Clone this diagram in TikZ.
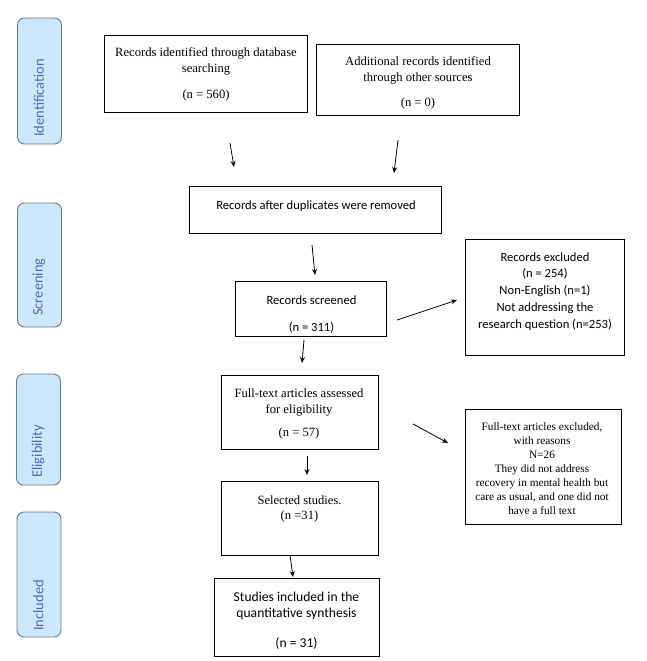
\documentclass[tikz,border=0pt]{standalone}
\usepackage{fontspec}
\setmainfont{Liberation Serif}
\newfontfamily\calfont{Carlito}
\usetikzlibrary{arrows.meta}
\definecolor{phasefill}{HTML}{CCE6FB}
\definecolor{phasetext}{HTML}{4A6EB5}
\definecolor{phasedraw}{HTML}{6E7B8A}
\begin{document}
\begin{tikzpicture}[x=1pt,y=-1pt,
  box/.style={draw=black, line width=1pt, inner sep=0pt, fill=white},
  phase/.style={draw=phasedraw, fill=phasefill, line width=0.9pt, rounded corners=7pt, inner sep=0pt, minimum width=44pt},
  phaselabel/.style={text=phasetext, font=\calfont\fontsize{14.5}{16}\selectfont, rotate=90, inner sep=0pt, anchor=west},
  sertxt/.style={align=center, inner sep=0pt, anchor=base, font=\fontsize{12.6}{16}\selectfont},
  caltxt/.style={align=center, inner sep=0pt, anchor=base, font=\calfont\fontsize{12.6}{16.5}\selectfont},
  arr/.style={line width=0.8pt, -{Stealth[length=6pt,width=5pt]}}
]
\useasboundingbox (0,0) rectangle (647,661);
\fill[white] (0,0) rectangle (647,661);

% phase labels (text starts near the bottom of each box)
\node[phase, minimum height=126pt] (p1) at (39.5,81) {};
\node[phaselabel] (l1) at (39,137) {Identification};
\node[phase, minimum height=124pt] (p2) at (39.5,265) {};
\node[phaselabel] (l2) at (39,316) {Screening};
\node[phase, minimum height=111pt] (p3) at (38.5,429.5) {};
\node[phaselabel] (l3) at (38,478) {Eligibility};
\node[phase, minimum height=125pt] (p4) at (39,574.5) {};
\node[phaselabel] (l4) at (38.5,631) {Included};

% boxes (text nodes anchored at the baseline of their last line)
\node[box, minimum width=203pt, minimum height=76pt] (b1) at (205.5,74) {};
\node[sertxt] (t1) at (206,98.5) {Records identified through database\\searching\\[10pt](n = 560)};

\node[box, minimum width=203pt, minimum height=70pt] (b2) at (417.5,80) {};
\node[sertxt] (t2) at (418,106.5) {Additional records identified\\through other sources\\[9pt](n = 0)};

\node[box, minimum width=252pt, minimum height=47pt] (b3) at (315,209.5) {};
\node[caltxt] (t3) at (316,209) {Records after duplicates were removed};

\node[box, minimum width=151pt, minimum height=55pt] (b4) at (310.5,308.5) {};
\node[caltxt] (t4) at (311.5,331) {Records screened\\[10.5pt](n = 311)};

\node[box, minimum width=159pt, minimum height=116pt] (b5) at (544.5,297) {};
\node[caltxt, font=\calfont\fontsize{12.6}{16.7}\selectfont] (t5) at (545,328) {Records excluded\\(n = 254)\\Non-English (n=1)\\Not addressing the\\research question (n=253)};

\node[box, minimum width=157pt, minimum height=74pt] (b6) at (299.5,412) {};
\node[sertxt] (t6) at (299,436) {Full-text articles assessed\\for eligibility\\[7pt](n = 57)};

\node[box, minimum width=157pt, minimum height=74pt] (b7) at (299.5,518) {};
\node[sertxt, font=\fontsize{12.6}{15}\selectfont] (t7) at (299.5,519) {Selected studies.\\(n =31)};

\node[box, minimum width=156pt, minimum height=115pt] (b8) at (543,466.5) {};
\node[sertxt, font=\fontsize{11.3}{14}\selectfont] (t8) at (542,514.5) {Full-text articles excluded,\\with reasons\\N=26\\They did not address\\recovery in mental health but\\care as usual, and one did not\\have a full text};

\node[box, minimum width=165pt, minimum height=78pt] (b9) at (296.5,617) {};
\node[caltxt, font=\calfont\fontsize{13.6}{16}\selectfont] (t9) at (296.5,647) {Studies included in the\\quantitative synthesis\\[14pt](n = 31)};

% arrow end points
\coordinate (a1s) at (230,143); \coordinate (a1e) at (234,167);
\coordinate (a2s) at (398,140); \coordinate (a2e) at (394,173);
\coordinate (a3s) at (312,245); \coordinate (a3e) at (315,275);
\coordinate (a4s) at (304,340); \coordinate (a4e) at (302,363);
\coordinate (a5s) at (397,320); \coordinate (a5e) at (457,300);
\coordinate (a6s) at (413,424); \coordinate (a6e) at (448,443);
\coordinate (a7s) at (307,456); \coordinate (a7e) at (307,475);
\coordinate (a8s) at (290,555); \coordinate (a8e) at (293,577);

\draw[arr] (a1s) -- (a1e);
\draw[arr] (a2s) -- (a2e);
\draw[arr] (a3s) -- (a3e);
\draw[arr] (a4s) -- (a4e);
\draw[arr] (a5s) -- (a5e);
\draw[arr] (a6s) -- (a6e);
\draw[arr] (a7s) -- (a7e);
\draw[arr] (a8s) -- (a8e);
\end{tikzpicture}
\end{document}
